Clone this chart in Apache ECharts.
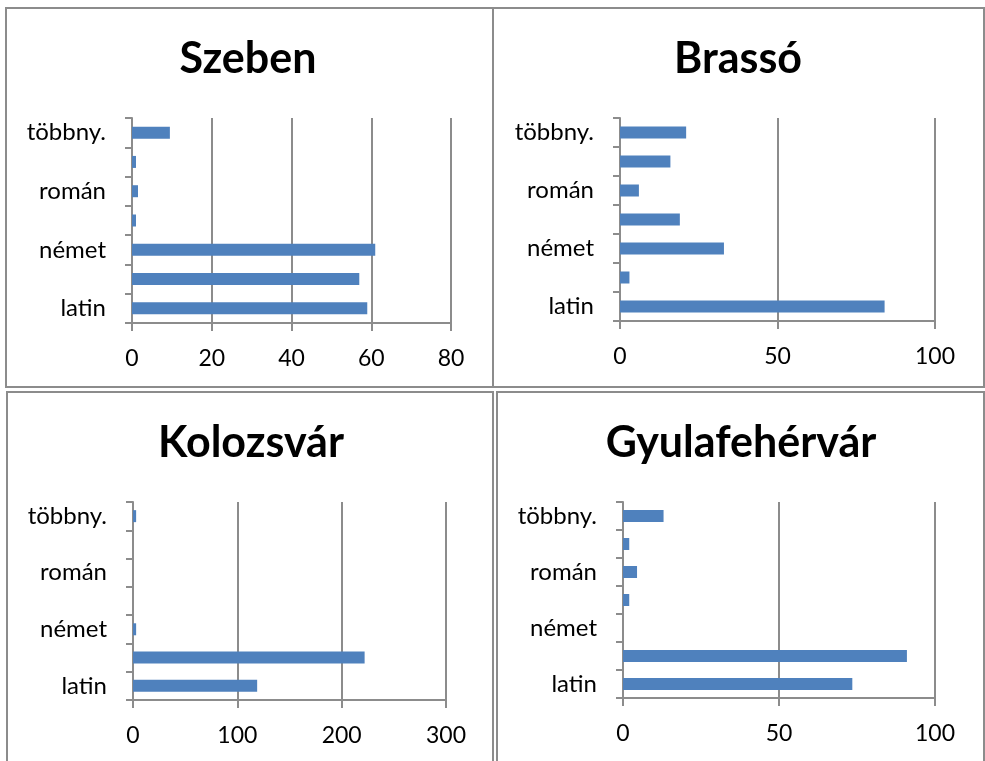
<!DOCTYPE html>
<html>
<head>
<meta charset="utf-8">
<script src="https://cdn.jsdelivr.net/npm/echarts@6/dist/echarts.min.js"></script>
<style>
html,body{margin:0;padding:0;background:#fff;}
#c{width:985px;height:761px;}
</style>
</head>
<body>
<div id="c"></div>
<script>
// Categories (bottom to top); only every other label is shown in the original
const categories = ['latin', 'magyar', 'német', 'görög', 'román', 'szláv', 'többny.'];
const panelTitles = ['Szeben', 'Brassó', 'Kolozsvár', 'Gyulafehérvár'];
const szeben = [59, 57, 61, 1, 1.5, 1, 9.5];
const brasso = [84, 3, 33, 19, 6, 16, 21];
const kolozsvar = [119, 222, 3, 0, 0, 0, 3];
const gyulafehervar = [73.5, 91, 0, 2, 4.5, 2, 13];
const axisMax = [80, 100, 300, 100];
const axisInterval = [20, 50, 100, 50];

const seriesData = [szeben, brasso, kolozsvar, gyulafehervar];

const grids = [
  {left: 132, top: 118, width: 319, height: 205},
  {left: 620, top: 118, width: 315, height: 203},
  {left: 133, top: 502, width: 313, height: 198},
  {left: 623, top: 502, width: 312, height: 196}
];
const titlePos = [
  {x: 248, y: 38}, {x: 738, y: 38}, {x: 251, y: 422}, {x: 741, y: 422}
];
const borders = [
  {x: 6, y: 8, w: 487, h: 379},
  {x: 493, y: 8, w: 491, h: 379},
  {x: 7, y: 392, w: 486, h: 375},
  {x: 497, y: 392, w: 487, h: 375}
];
const gridColor = '#8c8c8c';
const font = 'Lato, "Open Sans", sans-serif';

const option = {
  animation: false,
  backgroundColor: '#fff',
  title: panelTitles.map((t, i) => ({
    text: t,
    left: titlePos[i].x,
    top: titlePos[i].y,
    textAlign: 'center',
    padding: 0,
    textStyle: {fontFamily: font, fontWeight: 'bold', fontSize: 43, color: '#000'}
  })),
  graphic: borders.map(b => ({
    type: 'rect',
    shape: {x: b.x, y: b.y, width: b.w, height: b.h},
    style: {fill: 'none', stroke: gridColor, lineWidth: 2},
    silent: true
  })),
  grid: grids,
  xAxis: grids.map((g, i) => ({
    type: 'value',
    gridIndex: i,
    min: 0,
    max: axisMax[i],
    interval: axisInterval[i],
    axisLine: {show: true, lineStyle: {color: gridColor, width: 2}},
    axisTick: {show: true, length: 8, lineStyle: {color: gridColor, width: 2}},
    splitLine: {show: true, lineStyle: {color: gridColor, width: 2}},
    axisLabel: {fontFamily: font, fontSize: 23, color: '#000', margin: 24}
  })),
  yAxis: grids.map((g, i) => ({
    type: 'category',
    gridIndex: i,
    data: categories,
    axisLine: {show: true, lineStyle: {color: gridColor, width: 2}},
    axisTick: {show: true, length: 7, interval: 0, lineStyle: {color: gridColor, width: 2}},
    axisLabel: {interval: 1, fontFamily: font, fontSize: 24, color: '#000', margin: 26}
  })),
  series: seriesData.map((d, i) => ({
    type: 'bar',
    xAxisIndex: i,
    yAxisIndex: i,
    data: d,
    barWidth: 12,
    itemStyle: {color: '#4f81bd'}
  }))
};

const chart = echarts.init(document.getElementById('c'), null, {renderer: 'canvas'});
chart.setOption(option);
</script>
</body>
</html>
